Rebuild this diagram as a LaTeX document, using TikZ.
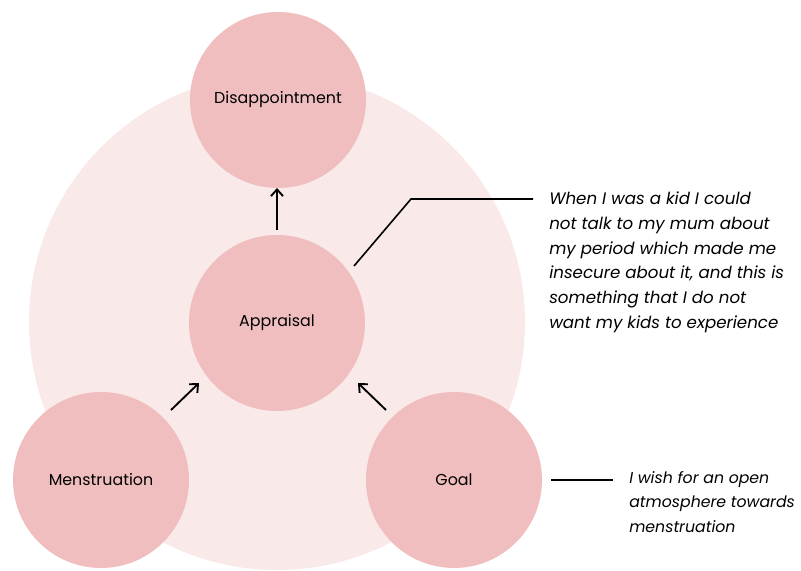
\documentclass[tikz,border=0pt]{standalone}
\usepackage{fontspec}
\setmainfont{Poppins}
\usetikzlibrary{arrows.meta}
\begin{document}
\begin{tikzpicture}[x=0.75pt,y=-0.75pt,
  halo/.style={circle,fill=haloPink,draw=none,minimum size=372pt,inner sep=0},
  stage/.style={circle,fill=stagePink,draw=none,minimum size=132pt,inner sep=0,
    font=\fontsize{11.9pt}{13pt}\selectfont},
  flow/.style={->,line width=1.4pt,>={Straight Barb[length=5pt,width=9pt]}},
  lead/.style={line width=1.2pt},
  quote/.style={align=left,inner sep=0,anchor=north west,
    font=\itshape\fontsize{12.5pt}{18.5pt}\selectfont}]
\definecolor{haloPink}{RGB}{249,233,233}
\definecolor{stagePink}{RGB}{240,190,190}
\useasboundingbox (0,0) rectangle (801,571);
% background ring enclosing the stages
\node[halo] (ring) at (277,322) {};
% stages
\node[stage] (dis) at (278,100) {Disappointment};
\node[stage] (app) at (277,323) {Appraisal};
\node[stage] (men) at (101,480) {Menstruation};
\node[stage] (goal) at (454,480) {Goal};
% arrows between the stages
\coordinate (a1) at (277,230);
\coordinate (a2) at (277,188);
\coordinate (b1) at (171,410);
\coordinate (b2) at (199,383);
\coordinate (c1) at (386,410);
\coordinate (c2) at (358,383);
\draw[flow] (a1) -- (a2);
\draw[flow] (b1) -- (b2);
\draw[flow] (c1) -- (c2);
% quotes with leader lines
\node[quote] (q1) at (549,192) {When I was a kid I could\\not talk to my mum about\\my period which made me\\insecure about it, and this is\\something that I do not\\want my kids to experience};
\coordinate (l1) at (354,266);
\coordinate (l2) at (411,199);
\coordinate (l3) at (533,199);
\draw[lead] (l1) -- (l2) -- (l3);
\node[quote,font=\itshape\fontsize{11.8pt}{18.5pt}\selectfont] (q2) at (629,471) {I wish for an open\\atmosphere towards\\menstruation};
\coordinate (m1) at (551,480);
\coordinate (m2) at (613,480);
\draw[lead] (m1) -- (m2);
\end{tikzpicture}
\end{document}
